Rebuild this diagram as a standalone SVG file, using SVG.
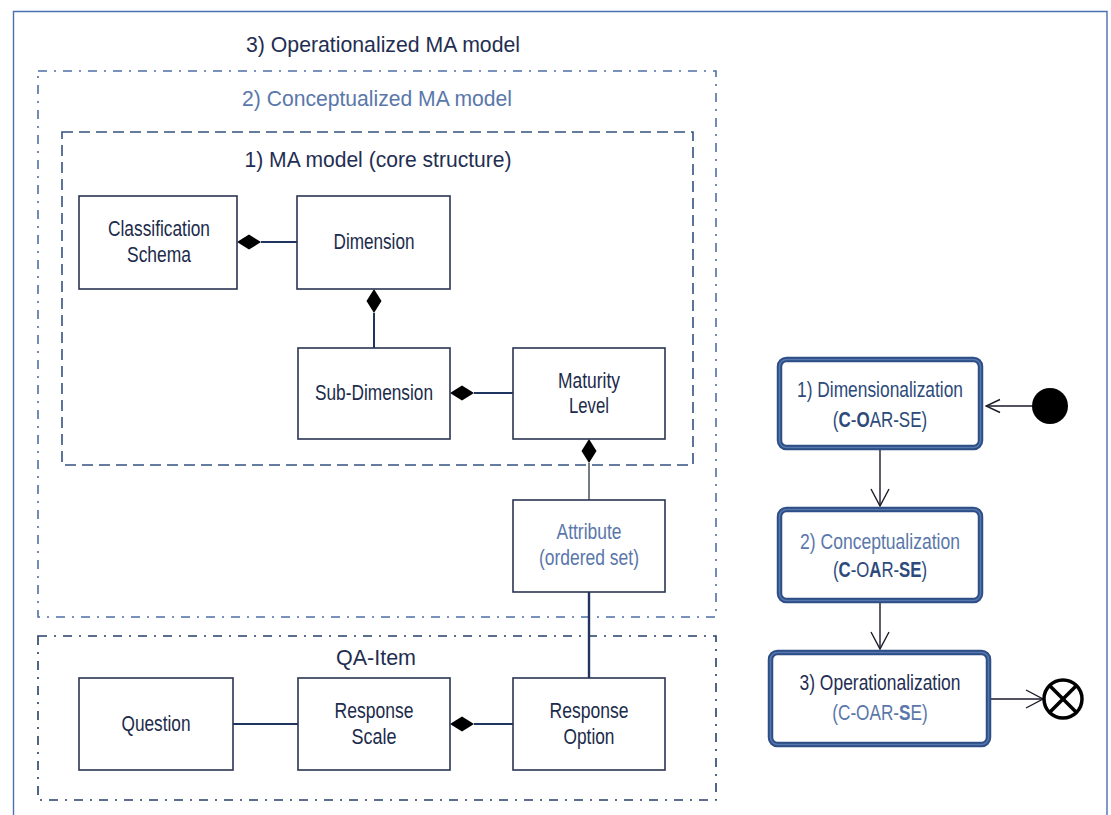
<svg xmlns="http://www.w3.org/2000/svg" width="1111" height="815" viewBox="0 0 1111 815">
  <style>
    text { font-family: "Liberation Sans", Arial, sans-serif; text-anchor: middle; }
    .title { font-size: 22px; }
    .lbl { font-size: 21.5px; fill: #1c2b4b; }
    .dark { fill: #1f2e52; }
    .light { fill: #5a77aa; }
    .navy { fill: #2c4a7a; }
    .cls { fill: #ffffff; stroke: #2a3550; stroke-width: 1.6; }
    .conn { fill: none; stroke: #1f3560; stroke-width: 2; }
    .diamond { fill: #000000; }
    .state-out { fill: #ffffff; stroke: #2c4d85; stroke-width: 5.5; }
    .state-in { fill: none; stroke: #5577ad; stroke-width: 1.6; }
    .flow { fill: none; stroke: #1a1a2a; stroke-width: 1.4; }
    .b { font-weight: bold; }
  </style>
  <defs>
    <marker id="openArrow" markerUnits="userSpaceOnUse" markerWidth="20" markerHeight="22" viewBox="-1 -11 20 22" refX="17" refY="0" orient="auto">
      <path d="M0,-9 L17,0 L0,9" fill="none" stroke="#1a1a2a" stroke-width="1.4"/>
    </marker>
    <marker id="openArrowSmall" markerUnits="userSpaceOnUse" markerWidth="16" markerHeight="16" viewBox="-1 -8 16 16" refX="14" refY="0" orient="auto">
      <path d="M0,-6.5 L14,0 L0,6.5" fill="none" stroke="#1a1a2a" stroke-width="1.4"/>
    </marker>
  </defs>

  <rect width="1111" height="815" fill="#ffffff"/>

  <!-- outer frame -->
  <path d="M13.5,830 L13.5,11.5 L1107,11.5 L1107,830" fill="none" stroke="#4a70b0" stroke-width="1.4"/>

  <!-- package frames -->
  <g id="frame-operationalized">
    <text class="title dark" x="383" y="52" textLength="274" lengthAdjust="spacingAndGlyphs">3) Operationalized MA model</text>
  </g>
  <g id="frame-conceptualized">
    <rect x="38" y="71" width="678" height="546" fill="none" stroke="#4f6fa2" stroke-width="1.6" stroke-dasharray="9 7 2 7"/>
    <text class="title light" x="377" y="106" textLength="270" lengthAdjust="spacingAndGlyphs">2) Conceptualized MA model</text>
  </g>
  <g id="frame-core">
    <rect x="62" y="132" width="631" height="333" fill="none" stroke="#34527f" stroke-width="1.6" stroke-dasharray="11 6"/>
    <text class="title dark" x="378" y="167" textLength="267" lengthAdjust="spacingAndGlyphs">1) MA model (core structure)</text>
  </g>
  <g id="frame-qa-item">
    <rect x="38" y="636" width="678" height="164" fill="none" stroke="#263f6a" stroke-width="1.6" stroke-dasharray="9 7 2 7"/>
    <text class="title dark" x="376" y="665" textLength="80" lengthAdjust="spacingAndGlyphs">QA-Item</text>
  </g>

  <!-- connectors -->
  <g id="connectors">
    <line class="conn" x1="261" y1="242" x2="297" y2="242"/>
    <polygon class="diamond" points="237,242 249,234.5 261,242 249,249.5"/>

    <line class="conn" x1="374" y1="313" x2="374" y2="348"/>
    <polygon class="diamond" points="374,289 381.5,301 374,313 366.5,301"/>

    <line class="conn" x1="474" y1="393" x2="513" y2="393"/>
    <polygon class="diamond" points="450,393 462,385.5 474,393 462,400.5"/>

    <line x1="589" y1="463" x2="589" y2="500" stroke="#555a66" stroke-width="1.6"/>
    <polygon class="diamond" points="589,439 596.5,451 589,463 581.5,451"/>

    <line x1="589" y1="592" x2="589" y2="678" stroke="#1f3560" stroke-width="2.4"/>

    <line class="conn" x1="233" y1="724" x2="298" y2="724"/>

    <line class="conn" x1="474" y1="724" x2="513" y2="724"/>
    <polygon class="diamond" points="450,724 462,716.5 474,724 462,731.5"/>

    <!-- process flow -->
    <line class="flow" x1="1032" y1="406" x2="986" y2="406" marker-end="url(#openArrowSmall)"/>
    <line class="flow" x1="880" y1="450" x2="880" y2="506" marker-end="url(#openArrow)"/>
    <line class="flow" x1="880" y1="603" x2="880" y2="649" marker-end="url(#openArrow)"/>
    <line class="flow" x1="991" y1="699" x2="1043" y2="699" marker-end="url(#openArrow)"/>
  </g>

  <!-- classes -->
  <g id="classification-schema">
    <rect class="cls" x="79" y="196" width="158" height="93"/>
    <text class="lbl" x="159" y="236" textLength="102" lengthAdjust="spacingAndGlyphs">Classification</text>
    <text class="lbl" x="159" y="262" textLength="64" lengthAdjust="spacingAndGlyphs">Schema</text>
  </g>
  <g id="dimension">
    <rect class="cls" x="297" y="196" width="153" height="93"/>
    <text class="lbl" x="374" y="249" textLength="81" lengthAdjust="spacingAndGlyphs">Dimension</text>
  </g>
  <g id="sub-dimension">
    <rect class="cls" x="298" y="348" width="152" height="91"/>
    <text class="lbl" x="374" y="400" textLength="118" lengthAdjust="spacingAndGlyphs">Sub-Dimension</text>
  </g>
  <g id="maturity-level">
    <rect class="cls" x="513" y="348" width="152" height="91"/>
    <text class="lbl" x="589" y="388" textLength="62" lengthAdjust="spacingAndGlyphs">Maturity</text>
    <text class="lbl" x="589" y="413" textLength="40" lengthAdjust="spacingAndGlyphs">Level</text>
  </g>
  <g id="attribute">
    <rect class="cls" x="513" y="500" width="152" height="92"/>
    <text class="lbl light" x="589" y="539" textLength="65" lengthAdjust="spacingAndGlyphs">Attribute</text>
    <text class="lbl light" x="589" y="565" textLength="100" lengthAdjust="spacingAndGlyphs">(ordered set)</text>
  </g>
  <g id="question">
    <rect class="cls" x="79" y="678" width="154" height="92"/>
    <text class="lbl" x="156" y="731" textLength="69" lengthAdjust="spacingAndGlyphs">Question</text>
  </g>
  <g id="response-scale">
    <rect class="cls" x="298" y="678" width="152" height="92"/>
    <text class="lbl" x="374" y="718" textLength="79" lengthAdjust="spacingAndGlyphs">Response</text>
    <text class="lbl" x="374" y="744" textLength="45" lengthAdjust="spacingAndGlyphs">Scale</text>
  </g>
  <g id="response-option">
    <rect class="cls" x="513" y="678" width="152" height="92"/>
    <text class="lbl" x="589" y="718" textLength="79" lengthAdjust="spacingAndGlyphs">Response</text>
    <text class="lbl" x="589" y="744" textLength="51" lengthAdjust="spacingAndGlyphs">Option</text>
  </g>

  <!-- process states -->
  <g id="start">
    <circle cx="1050" cy="406" r="18" fill="#000000"/>
  </g>
  <g id="dimensionalization">
    <rect class="state-out" x="779.5" y="359.5" width="201" height="88" rx="7"/>
    <rect class="state-in" x="779.5" y="359.5" width="201" height="88" rx="7"/>
    <text class="lbl navy" x="880" y="397" textLength="166" lengthAdjust="spacingAndGlyphs">1) Dimensionalization</text>
    <text class="lbl navy" transform="translate(880,427) scale(0.79,1)"><tspan>(</tspan><tspan class="b">C</tspan><tspan>-</tspan><tspan class="b">O</tspan><tspan>AR-SE)</tspan></text>
  </g>
  <g id="conceptualization">
    <rect class="state-out" x="779.5" y="509.5" width="201" height="91" rx="7"/>
    <rect class="state-in" x="779.5" y="509.5" width="201" height="91" rx="7"/>
    <text class="lbl light" x="880" y="549" textLength="160" lengthAdjust="spacingAndGlyphs">2) Conceptualization</text>
    <text class="lbl navy" transform="translate(880,577) scale(0.78,1)"><tspan>(</tspan><tspan class="b">C</tspan><tspan>-O</tspan><tspan class="b">A</tspan><tspan>R-</tspan><tspan class="b">SE</tspan><tspan>)</tspan></text>
  </g>
  <g id="operationalization">
    <rect class="state-out" x="770.5" y="652.5" width="218" height="92" rx="7"/>
    <rect class="state-in" x="770.5" y="652.5" width="218" height="92" rx="7"/>
    <text class="lbl dark" x="880" y="690" textLength="161" lengthAdjust="spacingAndGlyphs">3) Operationalization</text>
    <text class="lbl light" transform="translate(880,720) scale(0.8,1)"><tspan>(C-OAR-</tspan><tspan class="b">S</tspan><tspan>E)</tspan></text>
  </g>
  <g id="end">
    <circle cx="1063" cy="699" r="19" fill="#ffffff" stroke="#000000" stroke-width="3.5"/>
    <line x1="1049.5" y1="685.5" x2="1076.5" y2="712.5" stroke="#000000" stroke-width="3.5"/>
    <line x1="1076.5" y1="685.5" x2="1049.5" y2="712.5" stroke="#000000" stroke-width="3.5"/>
  </g>
</svg>
